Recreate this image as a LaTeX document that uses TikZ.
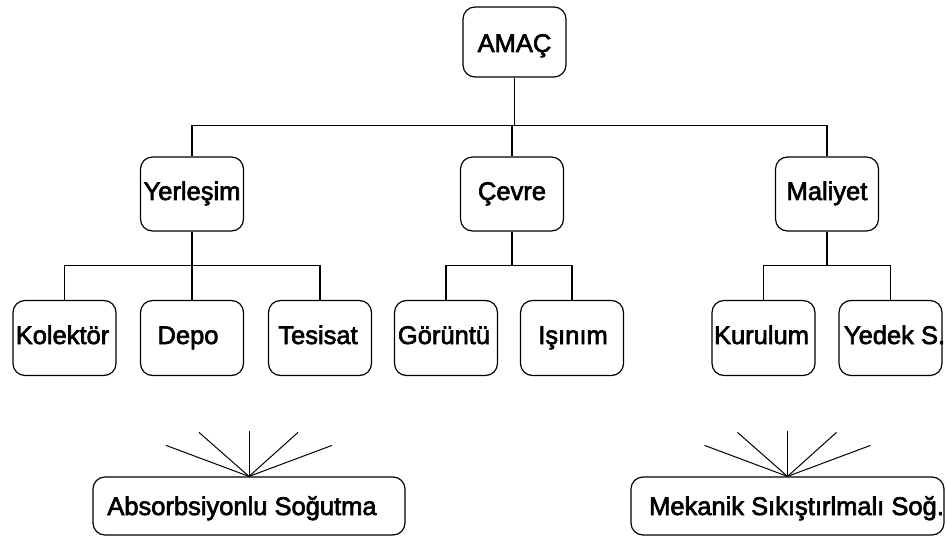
\documentclass[tikz,border=0pt]{standalone}
\usepackage{fontspec}
\setmainfont{Liberation Sans}[BoldFont={Liberation Sans},BoldFeatures={FakeBold=2.5}]
\begin{document}
\begin{tikzpicture}[x=1pt,y=-1pt,
  line width=1.2pt,
  box/.style={draw, rounded corners=12pt, inner sep=0pt, minimum width=103pt},
  top/.style={box, minimum height=70pt},
  mid/.style={box, minimum height=74pt},
  leaf/.style={box, minimum height=75pt},
  wide/.style={box, minimum height=58pt},
  txt/.style={font=\fontsize{25.5}{30}\selectfont\bfseries, inner sep=0pt, anchor=base}]
  \fill[white] (0,0) rectangle (947,537);
  \useasboundingbox (0,0) rectangle (947,537);

  % boxes
  \node[top]  (amac) at (514.5,42) {};
  \node[mid]  (yer)  at (192,194)  {};
  \node[mid]  (cev)  at (512,194)  {};
  \node[mid]  (mal)  at (827,194)  {};
  \node[leaf] (kol)  at (64.5,338) {};
  \node[leaf] (dep)  at (192,338)  {};
  \node[leaf] (tes)  at (320,338)  {};
  \node[leaf] (gor)  at (446,338)  {};
  \node[leaf] (isi)  at (572,338)  {};
  \node[leaf] (kur)  at (763.5,338) {};
  \node[leaf] (yed)  at (890.5,338) {};
  \node[wide, minimum width=312pt] (abs) at (249,506) {};
  \node[wide, minimum width=313pt] (mek) at (787.5,506) {};

  % labels (placed on their baselines)
  \node[txt] at ([yshift=-10pt]amac.center) {AMAÇ};
  \node[txt] at ([yshift=-6pt]yer.center)  {Yerleşim};
  \node[txt] at ([yshift=-6pt]cev.center)  {Çevre};
  \node[txt] at ([yshift=-6pt]mal.center)  {Maliyet};
  \node[txt] at ([xshift=-2pt,yshift=-6pt]kol.center) {Kolektör};
  \node[txt] at ([xshift=-4pt,yshift=-6pt]dep.center) {Depo};
  \node[txt] at ([xshift=-2pt,yshift=-6pt]tes.center) {Tesisat};
  \node[txt] at ([xshift=-2pt,yshift=-6pt]gor.center) {Görüntü};
  \node[txt] at ([xshift=1pt,yshift=-6pt]isi.center) {Işınım};
  \node[txt] at ([xshift=-2pt,yshift=-6pt]kur.center) {Kurulum};
  \node[txt] at ([xshift=4pt,yshift=-6pt]yed.center) {\makebox[0pt]{Yedek S.}};
  \node[txt] at ([xshift=-7pt,yshift=-9pt]abs.center) {Absorbsiyonlu Soğutma};
  \node[txt] at ([xshift=9pt,yshift=-9pt]mek.center) {\makebox[0pt]{Mekanik Sıkıştırlmalı Soğ.}};

  % tree connectors
  \coordinate (j0) at ([yshift=-48pt]amac.south);
  \draw (amac.south) -- (j0);
  \draw (yer.north) |- (j0) -| (mal.north);
  \draw (cev.north) -- (cev.north |- j0);

  \coordinate (j1) at ([yshift=-34pt]yer.south);
  \draw (yer.south) -- (j1);
  \draw (kol.north) |- (j1) -| (tes.north);
  \draw (dep.north) -- (j1);

  \coordinate (j2) at ([yshift=-34pt]cev.south);
  \draw (cev.south) -- (j2);
  \draw (gor.north) |- (j2) -| (isi.north);

  \coordinate (j3) at ([yshift=-34pt]mal.south);
  \draw (mal.south) -- (j3);
  \draw (kur.north) |- (j3) -| (yed.north);

  % rays above the two bottom boxes
  \foreach \n in {abs,mek}{
    \foreach \dx/\dy in {-83/-31,-50/-44,0/-45,49/-44,83/-31}
      \draw[line width=1pt] (\n.north) -- ++(\dx,\dy);
  }
\end{tikzpicture}
\end{document}
